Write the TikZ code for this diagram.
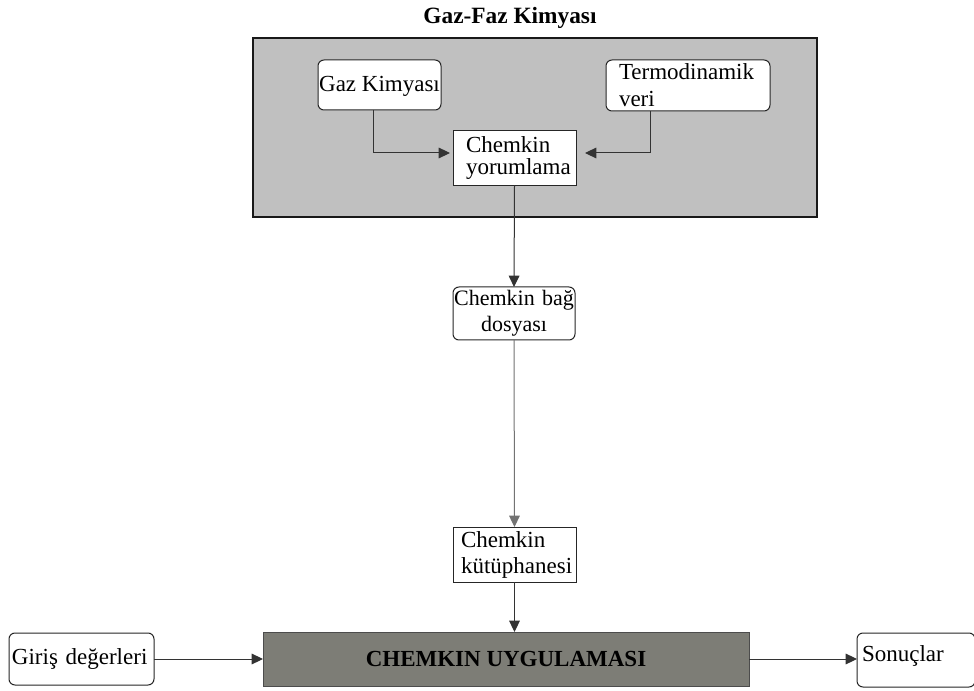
\documentclass[tikz,border=0pt]{standalone}
\usepackage{fontspec}
\setmainfont{Liberation Serif}
\usetikzlibrary{arrows.meta}
\newdimen\px \px=0.75pt
\definecolor{regiongray}{RGB}{192,192,192}
\definecolor{appgray}{RGB}{125,125,118}
\tikzset{
  box/.style={draw=black!85, line width=1\px, fill=white, inner ysep=0pt, outer sep=0pt,
    font=\fontsize{17.25}{19}\selectfont},
  rbox/.style={box, rounded corners=6\px},
  arr/.style={draw=black!80, line width=1\px, -{Triangle[length=8.5pt,width=8pt]}},
}
\begin{document}
\begin{tikzpicture}[x=0.75pt,y=-0.75pt]
\useasboundingbox[fill=white] (0,0) rectangle (974,691);

\node[font=\fontsize{17.5}{20}\selectfont\bfseries] (title) at (510,18) {Gaz-Faz Kimyası};

\node[draw=black!90, line width=1.5\px, fill=regiongray, minimum width=564\px, minimum height=179\px, inner sep=0pt] (region) at (535,127.5) {};

\node[rbox, minimum width=123\px, minimum height=50\px, inner xsep=1\px,
  text height=17\px, text depth=3\px] (gaz) at (379.5,85) {Gaz Kimyası};

\node[rbox, minimum width=164\px, minimum height=51\px, text width=138\px, inner xsep=13\px, align=left,
  font=\fontsize{17.25}{20.25}\selectfont] (termo) at (688,85.5) {Termodinamik\\veri};

\node[box, minimum width=123\px, minimum height=55\px, text width=97\px, inner xsep=13\px, align=left,
  font=\fontsize{17.25}{16.5}\selectfont] (yor) at (514.5,158) {Chemkin\\yorumlama};

\node[rbox, minimum width=122\px, minimum height=53\px, text width=122\px, inner xsep=0pt, align=center,
  font=\fontsize{16.5}{19.5}\selectfont] (bag) at (514,313.5) {Chemkin bağ\\dosyası};

\node[box, minimum width=123\px, minimum height=55\px, text width=107\px, inner xsep=8\px, align=left,
  font=\fontsize{17.25}{19.5}\selectfont] (kut) at (514.5,554.5) {Chemkin\\kütüphanesi};

\node[box, draw=black!70, fill=appgray, minimum width=486\px, minimum height=54\px, inner sep=0pt,
  font=\fontsize{17.25}{19}\selectfont\bfseries] (app) at (506,659) {CHEMKIN UYGULAMASI};

\node[rbox, minimum width=145\px, minimum height=52\px, text width=139\px, inner xsep=3\px, align=left] (giris) at (81.5,659) {Giriş değerleri};

\node[rbox, minimum width=114\px, minimum height=54\px, text width=108\px, inner xsep=5\px, align=left,
  text height=16\px, text depth=14\px] (sonuc) at (916,660) {Sonuçlar};

\draw[arr, shorten >=3\px] ([xshift=-6.5\px]gaz.south) |- ([yshift=5\px]yor.west);
\draw[arr, shorten >=9\px] ([xshift=-38\px]termo.south) |- ([yshift=5\px]yor.east);
\draw[arr] (yor.south) -- (bag.north);
\draw[arr, draw=black!55] (bag.south) -- (kut.north);
\draw[arr] (kut.south) -- (kut.south |- app.north);
\draw[arr] (giris.east) -- (app.west);
\draw[arr] (app.east) -- (app.east -| sonuc.west);
\end{tikzpicture}
\end{document}
